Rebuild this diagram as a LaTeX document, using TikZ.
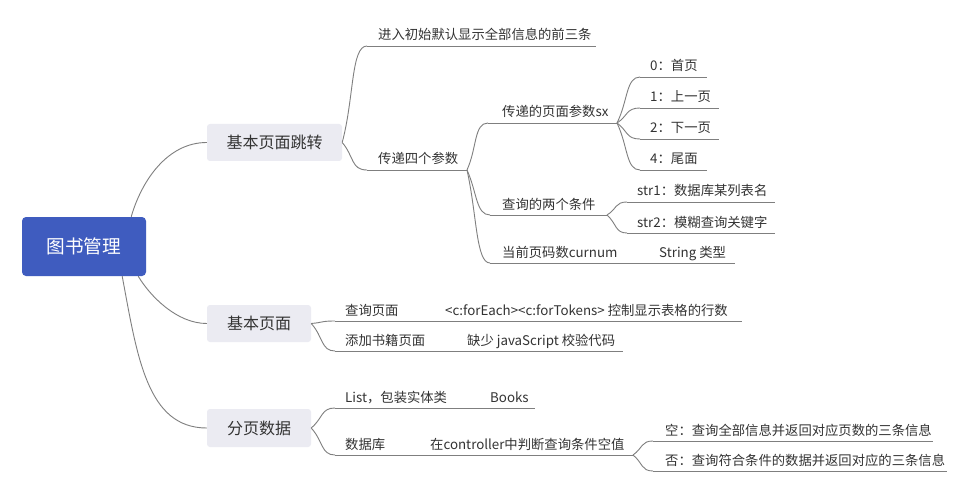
\documentclass[tikz,border=0pt]{standalone}
\usepackage{fontspec}
\setmainfont{Noto Sans CJK SC}
\definecolor{rootblue}{HTML}{3F5CBF}
\definecolor{mainbg}{HTML}{EBEBF2}
\definecolor{linegray}{HTML}{7F7F7F}
\definecolor{txt}{HTML}{333333}
\newcommand{\mmtopic}[6]{% name, line left x, line right x, underline y, text x, text
  \coordinate (#1-l) at (#2,#4);
  \coordinate (#1-r) at (#3,#4);
  \node[topic] (#1) at (#5,#4-6) {#6};
  \draw[conn] (#1-l) -- (#1-r);
}
\begin{document}
\begin{tikzpicture}[x=1pt,y=-1pt,
  conn/.style={draw=linegray, line width=0.9pt},
  topic/.style={anchor=base west, inner sep=0pt, text=txt, font=\fontsize{13.33}{16}\selectfont},
  rootbox/.style={fill=rootblue, rounded corners=4pt, text=white, inner sep=0pt, font=\fontsize{18.67}{22}\selectfont},
  mainbox/.style={fill=mainbg, rounded corners=3pt, text=txt, inner sep=0pt, font=\fontsize{16}{19}\selectfont}
]
\useasboundingbox (0,0) rectangle (967,492);
\fill[white] (0,0) rectangle (967,492);

% root and main branches
\node[rootbox, minimum width=124pt, minimum height=59pt] (root) at (84,246.5) {图书管理};
\node[mainbox, minimum width=135pt, minimum height=37pt] (b1) at (274.5,142.5) {基本页面跳转};
\node[mainbox, minimum width=104pt, minimum height=37pt] (b2) at (259,323.5) {基本页面};
\node[mainbox, minimum width=104pt, minimum height=38pt] (b3) at (259,428) {分页数据};

\draw[conn] ([xshift=-15pt]root.north east) .. controls +(10,-35) and +(-40,0) .. (b1.west);
\draw[conn] ([xshift=-8pt]root.south east) .. controls +(12,20) and +(-30,0) .. (b2.west);
\draw[conn] ([xshift=-24pt]root.south east) .. controls +(15,80) and +(-60,0) .. (b3.west);

% branch 1
\mmtopic{t1}{367}{596}{46}{378}{进入初始默认显示全部信息的前三条}
\mmtopic{t2}{367}{467}{170}{378}{传递四个参数}
\draw[conn] (b1.east) .. controls +(12,-45) and +(-16,0) .. (t1-l);
\draw[conn] (b1.east) .. controls +(12,14) and +(-16,0) .. (t2-l);

\mmtopic{t21}{488}{617}{123}{502}{传递的页面参数sx}
\mmtopic{t22}{490}{607}{215}{502}{查询的两个条件}
\mmtopic{t23}{490}{626}{263}{502}{当前页码数curnum}
\mmtopic{t231}{646}{735}{263}{659}{String 类型}
\draw[conn] (t2-r) .. controls +(10,-22) and +(-14,0) .. (t21-l);
\draw[conn] (t2-r) .. controls +(10,22) and +(-14,0) .. (t22-l);
\draw[conn] (t2-r) .. controls +(10,45) and +(-14,0) .. (t23-l);
\draw[conn] (t23-r) -- (t231-l);

\mmtopic{t211}{640}{707}{77}{650}{0：首页}
\mmtopic{t212}{640}{719}{108}{650}{1：上一页}
\mmtopic{t213}{640}{719}{139}{650}{2：下一页}
\mmtopic{t214}{640}{707}{170}{650}{4：尾面}
\draw[conn] (t21-r) .. controls +(11,-22) and +(-14,0) .. (t211-l);
\draw[conn] (t21-r) .. controls +(11,-7) and +(-14,0) .. (t212-l);
\draw[conn] (t21-r) .. controls +(11,8) and +(-14,0) .. (t213-l);
\draw[conn] (t21-r) .. controls +(11,23) and +(-14,0) .. (t214-l);

\mmtopic{t221}{627}{775}{202}{637}{str1：数据库某列表名}
\mmtopic{t222}{627}{775}{233}{637}{str2：模糊查询关键字}
\draw[conn] (t22-r) .. controls +(10,-6) and +(-12,0) .. (t221-l);
\draw[conn] (t22-r) .. controls +(10,9) and +(-12,0) .. (t222-l);

% branch 2
\mmtopic{q1}{335}{410}{321}{345}{查询页面}
\mmtopic{q11}{433}{742}{321}{445}{<c:forEach><c:forTokens> 控制显示表格的行数}
\mmtopic{q2}{335}{436}{351}{345}{添加书籍页面}
\mmtopic{q21}{457}{623}{351}{467}{缺少 javaScript 校验代码}
\draw[conn] (b2.east) .. controls +(12,-1) and +(-14,0) .. (q1-l);
\draw[conn] (b2.east) .. controls +(12,13) and +(-14,0) .. (q2-l);
\draw[conn] (q1-r) -- (q11-l);
\draw[conn] (q2-r) -- (q21-l);

% branch 3
\mmtopic{p1}{335}{457}{408}{345}{List，包装实体类}
\mmtopic{p11}{478}{535}{408}{490}{Books}
\mmtopic{p2}{335}{395}{455}{345}{数据库}
\mmtopic{p21}{418}{633}{455}{430}{在controller中判断查询条件空值}
\draw[conn] (b3.east) .. controls +(12,-10) and +(-14,0) .. (p1-l);
\draw[conn] (b3.east) .. controls +(12,13) and +(-14,0) .. (p2-l);
\draw[conn] (p1-r) -- (p11-l);
\draw[conn] (p2-r) -- (p21-l);

\mmtopic{p211}{653}{933}{441}{665}{空：查询全部信息并返回对应页数的三条信息}
\mmtopic{p212}{653}{947}{471}{665}{否：查询符合条件的数据并返回对应的三条信息}
\draw[conn] (p21-r) .. controls +(10,-7) and +(-12,0) .. (p211-l);
\draw[conn] (p21-r) .. controls +(10,8) and +(-12,0) .. (p212-l);
\end{tikzpicture}
\end{document}
